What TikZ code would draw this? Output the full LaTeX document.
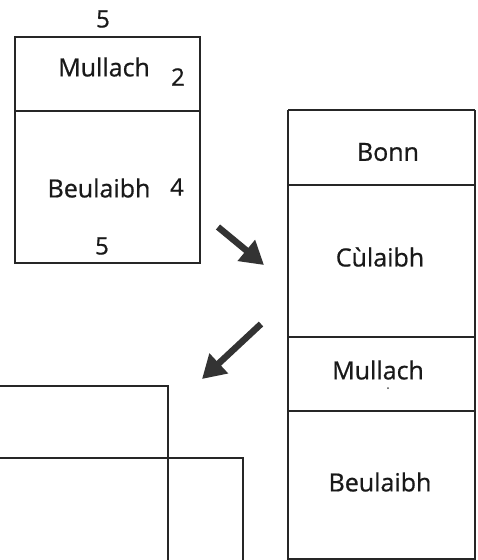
\documentclass[tikz,border=0pt]{standalone}
\usepackage{fontspec}
\setmainfont{Open Sans}[UprightFeatures={FakeBold=0.7}]
\usetikzlibrary{arrows.meta}
\begin{document}
\begin{tikzpicture}[x=1pt,y=-1pt,
  box/.style={draw=black!85,line width=1.9pt},
  lbl/.style={font=\fontsize{25}{28}\selectfont,text=black!90,inner sep=0pt},
  num/.style={font=\fontsize{24}{28}\selectfont,text=black!90,inner sep=0pt},
  bigarrow/.style={draw=black!80,line width=6.5pt,-{Triangle[length=23pt,width=26pt]}}]
\useasboundingbox (0,0) rectangle (477,560);
% left box
\draw[box] (15,37) rectangle (200,263);
\draw[box] (15,111) -- (200,111);
\node[num] (t5) at (103,19) {5};
\node[lbl] (m1) at (104,67) {Mullach};
\node[num] (n2) at (178,77) {2};
\node[lbl] (b1) at (99,188) {Beulaibh};
\node[num] (n4) at (177,187) {4};
\node[num] (b5) at (102,246) {5};
% right box
\draw[box] (288,110) -- (475,110);
\draw[box] (288,110) -- (288,565);
\draw[box] (475,110) -- (475,565);
\draw[box] (288,559) -- (475,559);
\draw[box] (288,185) -- (475,185);
\draw[box] (288,337) -- (475,337);
\draw[box] (288,411) -- (475,411);
\node[lbl] (bonn) at (388,152) {Bonn};
\node[lbl] (cul) at (380,257) {Cùlaibh};
\node[lbl] (m2) at (378,370) {Mullach};
\fill[black!70] (388,388) circle (1pt);
\node[lbl] (b2) at (380,482) {Beulaibh};
% arrows
\coordinate (a1s) at (218,227);
\coordinate (a1e) at (264,265);
\coordinate (a2s) at (261,324);
\coordinate (a2e) at (202,379);
\draw[bigarrow] (a1s) -- (a1e);
\draw[bigarrow] (a2s) -- (a2e);
% bottom-left outlines
\draw[box] (-5,386) -- (168,386) -- (168,565);
\draw[box] (-5,458) -- (243,458) -- (243,565);
\end{tikzpicture}
\end{document}
